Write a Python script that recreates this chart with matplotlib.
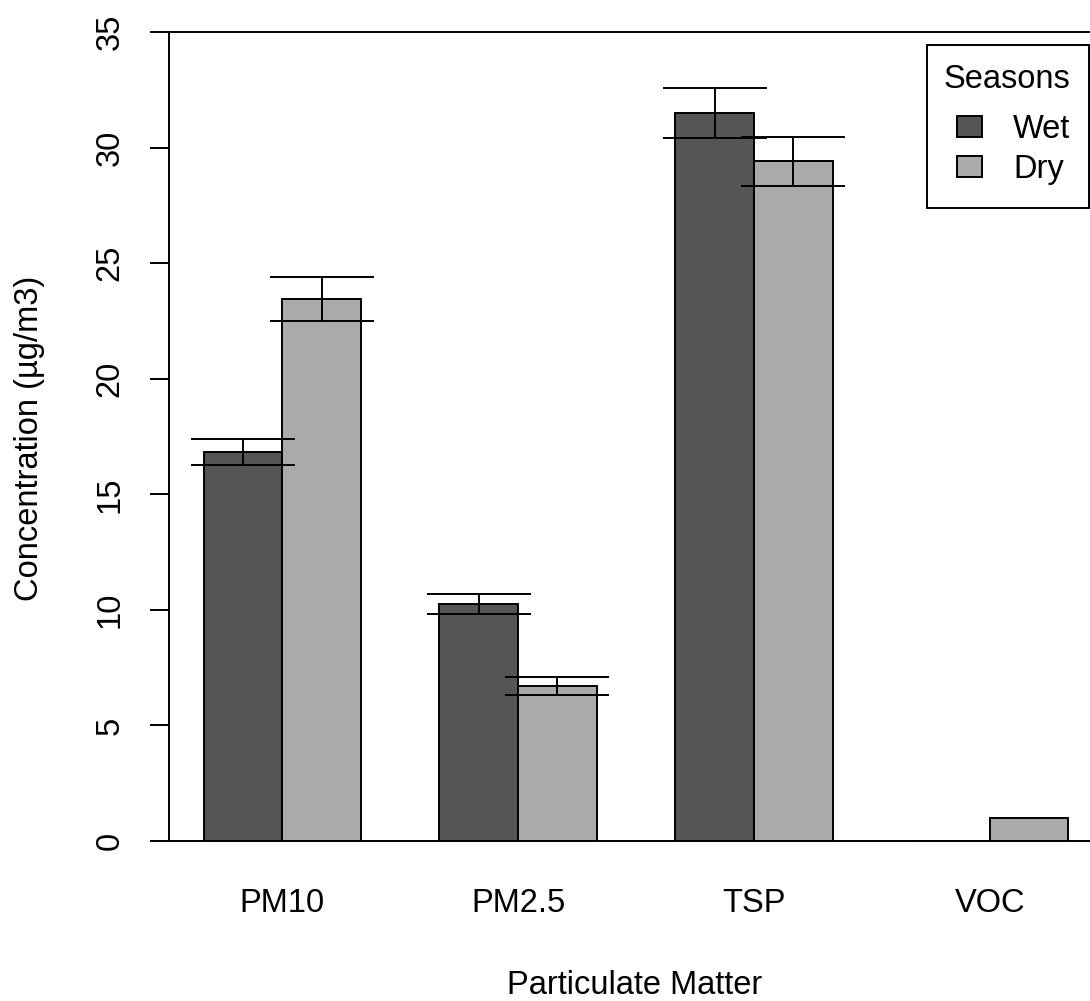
import numpy as np
import matplotlib
matplotlib.use("Agg")
import matplotlib.pyplot as plt
from matplotlib.patches import Rectangle

# Data
categories = ["PM10", "PM2.5", "TSP", "VOC"]
seasons = ["Wet", "Dry"]
wet = [16.83, 10.25, 31.49, 0.0]
dry = [23.45, 6.71, 29.40, 1.0]
wet_err = [0.55, 0.42, 1.07, np.nan]
dry_err = [0.95, 0.38, 1.06, np.nan]
yticks = [0, 5, 10, 15, 20, 25, 30, 35]

wet_col = "#555555"
dry_col = "#aaaaaa"
lw = 1.4
fs = 23.5

plt.rcParams["font.family"] = ["Liberation Sans", "DejaVu Sans"]

W, H = 1090, 1001
fig = plt.figure(figsize=(W / 100, H / 100), dpi=100)
# R barplot style: bars at 1..12 with a gap, xlim padded by 4%
ax = fig.add_axes([169 / W, (H - 841) / H, (1103 - 169) / W, (841 - 32) / H])

n = len(categories)
grp = np.arange(n) * 3
x_wet = grp + 1.5
x_dry = grp + 2.5

ax.bar(x_wet, wet, width=1.0, color=wet_col, edgecolor="black", linewidth=lw, zorder=2)
ax.bar(x_dry, dry, width=1.0, color=dry_col, edgecolor="black", linewidth=lw, zorder=2)
ax.errorbar(x_wet, wet, yerr=wet_err, fmt="none", ecolor="black",
            elinewidth=lw, capsize=37.5, capthick=lw, zorder=3)
ax.errorbar(x_dry, dry, yerr=dry_err, fmt="none", ecolor="black",
            elinewidth=lw, capsize=37.5, capthick=lw, zorder=3)

ax.set_xlim(0.56, 12.44)
ax.set_ylim(0, 35)

ax.spines["right"].set_visible(False)
for s in ["left", "top", "bottom"]:
    ax.spines[s].set_linewidth(lw)
    ax.spines[s].set_color("black")

ax.set_yticks(yticks)
ax.set_yticklabels([str(v) for v in yticks], rotation=90, va="center")
ax.tick_params(axis="y", length=13.7, width=lw, pad=17.5, labelsize=fs, direction="out")

ax.set_xticks(grp + 2)
ax.set_xticklabels(categories)
ax.tick_params(axis="x", length=0, pad=34, labelsize=fs)

fig.text(635 / W, 1 - 986 / H, "Particulate Matter", ha="center", va="center", fontsize=fs)
fig.text(30 / W, 1 - 438 / H, "Concentration (\u00b5g/m3)", ha="center", va="center",
         rotation=90, fontsize=fs)

# legend box drawn R-style (title, two filled squares)
def fx(px):
    return px / W

def fy(py):
    return 1 - py / H

fig.patches.append(Rectangle((fx(927), fy(208)), fx(1089) - fx(927), fy(45) - fy(208),
                             transform=fig.transFigure, facecolor="white",
                             edgecolor="black", linewidth=lw, zorder=5))
fig.text(fx(1007), fy(88), "Seasons", ha="center", va="baseline", fontsize=fs, zorder=6)
for i, (lab, col) in enumerate(zip(seasons, [wet_col, dry_col])):
    top = 116 + i * 40.5
    fig.patches.append(Rectangle((fx(957), fy(top + 21)), fx(982) - fx(957), fy(top) - fy(top + 21),
                                 transform=fig.transFigure, facecolor=col,
                                 edgecolor="black", linewidth=lw, zorder=6))
    fig.text(fx(1013), fy(top + 21.5), lab, ha="left", va="baseline", fontsize=fs, zorder=6)

fig.savefig("out.png", dpi=100)
